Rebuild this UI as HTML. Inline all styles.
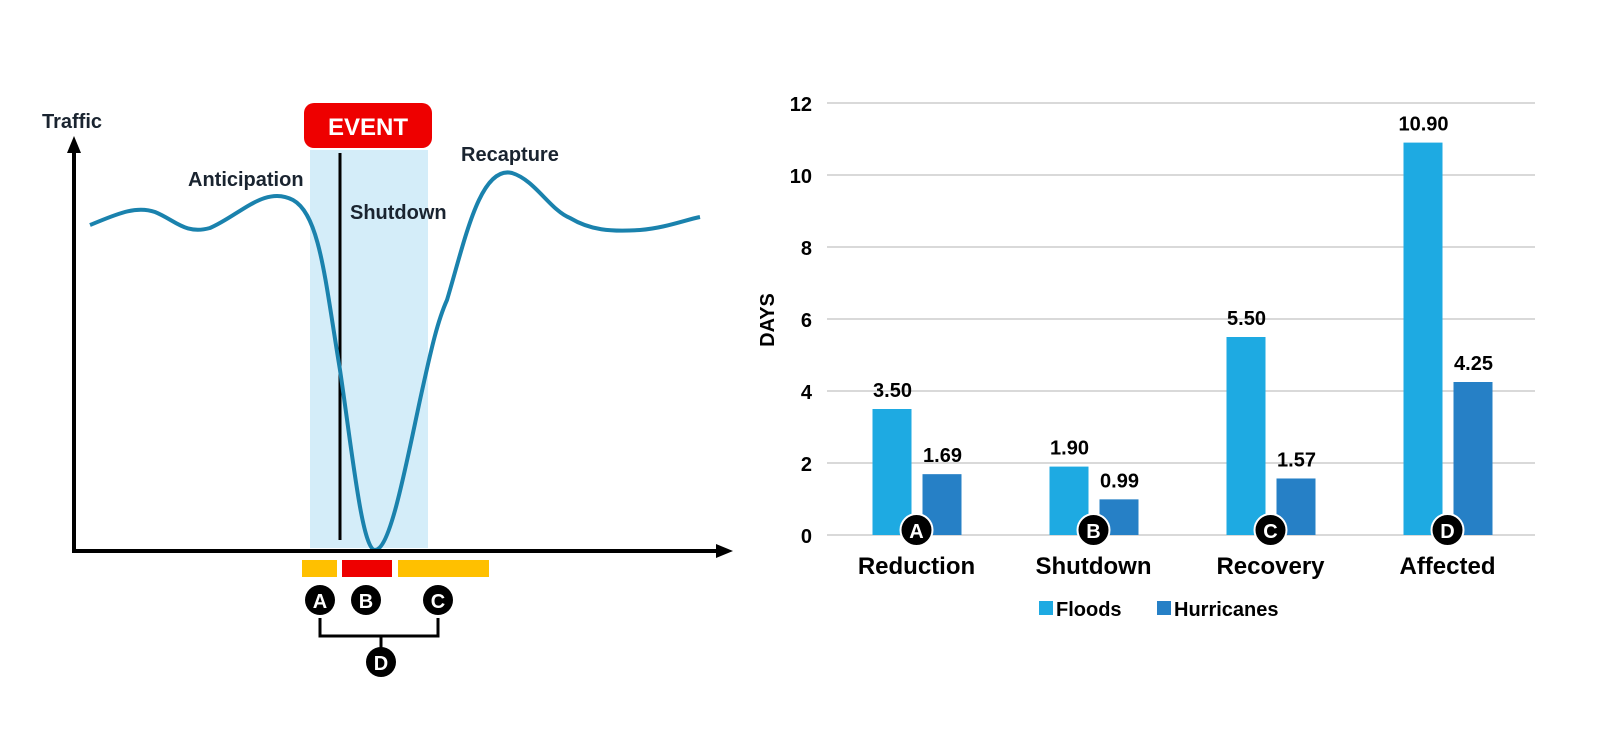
<!DOCTYPE html>
<html><head><meta charset="utf-8"><style>
body{margin:0;background:#fff;}
svg{display:block;font-family:"Liberation Sans",sans-serif;font-weight:bold;}
</style></head><body>
<svg width="1600" height="749" viewBox="0 0 1600 749" xmlns="http://www.w3.org/2000/svg">
<g>
  <rect x="310" y="150" width="118" height="398" fill="#d4edf9"/>
  <rect x="304" y="103" width="128" height="45" rx="10" fill="#ee0000"/>
  <text x="368" y="135" font-size="24" fill="#fff" text-anchor="middle">EVENT</text>
  <line x1="340" y1="153" x2="340" y2="540" stroke="#000" stroke-width="3"/>
  <path d="M90,225 C115,215 135,205 155,212 C175,220 185,235 210,228 C240,215 265,185 293,200 C320,215 325,280 340,370 C352,450 362,550 375,550 C390,550 405,470 420,400 C432,345 438,320 447,300 C465,240 480,165 512,173 C535,180 550,210 570,218 C590,230 610,232 640,230 C665,228 685,220 700,217" fill="none" stroke="#1a82ad" stroke-width="4"/>
  <line x1="74" y1="150" x2="74" y2="552" stroke="#000" stroke-width="4"/>
  <polygon points="74,136 67,153 81,153" fill="#000"/>
  <line x1="72" y1="551" x2="718" y2="551" stroke="#000" stroke-width="4"/>
  <polygon points="733,551 716,544 716,558" fill="#000"/>
  <text x="42" y="128" font-size="20" fill="#1a2430">Traffic</text>
  <text x="188" y="186" font-size="20" fill="#1a2430">Anticipation</text>
  <text x="350" y="219" font-size="20" fill="#1a2430">Shutdown</text>
  <text x="461" y="161" font-size="20" fill="#1a2430">Recapture</text>
  <rect x="302" y="560" width="35" height="17" fill="#ffc000"/>
  <rect x="342" y="560" width="50" height="17" fill="#ee0000"/>
  <rect x="398" y="560" width="91" height="17" fill="#ffc000"/>
  <path d="M320,618 V636 H438 V618 M381,636 V648" fill="none" stroke="#000" stroke-width="3"/>
  <g><circle cx="320" cy="600" r="15" fill="#000"/><text x="320" y="608" font-size="20" fill="#fff" text-anchor="middle">A</text></g>
  <g><circle cx="366" cy="600" r="15" fill="#000"/><text x="366" y="608" font-size="20" fill="#fff" text-anchor="middle">B</text></g>
  <g><circle cx="438" cy="600" r="15" fill="#000"/><text x="438" y="608" font-size="20" fill="#fff" text-anchor="middle">C</text></g>
  <g><circle cx="381" cy="662" r="15" fill="#000"/><text x="381" y="670" font-size="20" fill="#fff" text-anchor="middle">D</text></g>
</g>
<g id="bar-chart"></g>
</svg>
<script>
const categories=["Reduction","Shutdown","Recovery","Affected"];
const markers=["A","B","C","D"];
const floods=[3.50,1.90,5.50,10.90];
const hurricanes=[1.69,0.99,1.57,4.25];
const yTicks=[0,2,4,6,8,10,12];
const NS="http://www.w3.org/2000/svg";
const g=document.getElementById("bar-chart");
const X0=827,X1=1535,Y0=535,Y12=103;
const y=v=>Y0-(v/12)*(Y0-Y12);
const band=(X1-X0)/categories.length;
const cx=i=>X0+band*(i+0.5);
function mk(tag,attrs,txt){const e=document.createElementNS(NS,tag);for(const k in attrs)e.setAttribute(k,attrs[k]);if(txt!==undefined)e.textContent=txt;g.appendChild(e);return e;}
yTicks.forEach(t=>{
  const l=mk("line",{x1:X0,x2:X1,y1:y(t),y2:y(t),stroke:"#d9d9d9","stroke-width":2});
  
  
  const tx=mk("text",{x:812,y:y(t)+8,"font-size":20,"text-anchor":"end",fill:"#000"},String(t));
  
  
});
const yt=mk("text",{x:0,y:0,"font-size":20,"text-anchor":"middle",transform:"translate(774,320) rotate(-90)",fill:"#000"},"DAYS");


categories.forEach((c,i)=>{
  const c0=cx(i);
  const b1=mk("rect",{x:c0-43,y:y(floods[i]),width:39,height:Y0-y(floods[i]),fill:"#1eaae2"});
  
  
  const b2=mk("rect",{x:c0+7,y:y(hurricanes[i]),width:39,height:Y0-y(hurricanes[i]),fill:"#2680c6"});
  
  
  const v1=mk("text",{x:c0-23,y:y(floods[i])-12,"font-size":20,"text-anchor":"middle",fill:"#000"},floods[i].toFixed(2));
  
  
  const v2=mk("text",{x:c0+27,y:y(hurricanes[i])-12,"font-size":20,"text-anchor":"middle",fill:"#000"},hurricanes[i].toFixed(2));
  
  
  const ci=mk("circle",{cx:c0+1,cy:530,r:16,fill:"#000",stroke:"#fff","stroke-width":2});
  
  
  const ct=mk("text",{x:c0+1,y:538,"font-size":20,"text-anchor":"middle",fill:"#fff"},markers[i]);
  
  
  const cl=mk("text",{x:c0+1,y:574,"font-size":24,"text-anchor":"middle",fill:"#000"},c);
  
  
});
const l1=mk("rect",{x:1039,y:601,width:14,height:14,fill:"#1eaae2"});


const l2=mk("text",{x:1056,y:616,"font-size":20,fill:"#000"},"Floods");


const l3=mk("rect",{x:1157,y:601,width:14,height:14,fill:"#2680c6"});


const l4=mk("text",{x:1174,y:616,"font-size":20,fill:"#000"},"Hurricanes");


</script>
</body></html>
